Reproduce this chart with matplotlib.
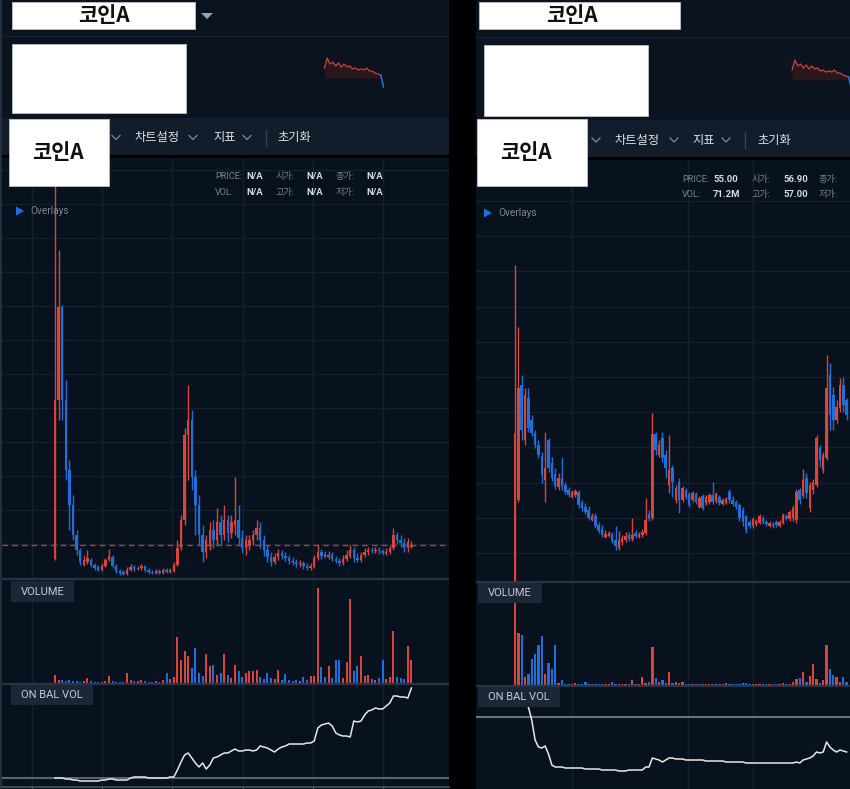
import numpy as np
import matplotlib
matplotlib.use("Agg")
import matplotlib.pyplot as plt
from matplotlib.patches import Rectangle, Polygon

# ---------------- data ----------------
left_open = [4.1, 20.0, 29.3, 20.0, 13.0, 9.5, 6.5, 5.0, 3.5, 3.8,
             4.0, 3.5, 3.3, 3.0, 3.4, 4.0, 4.3, 3.4, 2.9, 2.8,
             2.6, 3.0, 3.3, 3.1, 3.2, 3.4, 3.0, 2.8, 2.7, 2.9,
             2.7, 3.0, 2.8, 2.9, 3.5, 5.2, 8.0, 16.5, 18.0, 12.3,
             9.5, 6.5, 4.8, 5.5, 7.0, 6.0, 7.8, 6.5, 8.0, 6.7,
             7.5, 8.0, 6.2, 5.2, 5.5, 6.0, 6.5, 7.2, 6.0, 5.0,
             4.3, 3.8, 4.3, 4.7, 4.4, 4.2, 3.9, 3.8, 3.6, 3.7,
             3.4, 3.2, 3.4, 4.2, 4.8, 4.6, 4.3, 4.5, 4.1, 3.9,
             3.7, 4.1, 4.4, 5.0, 4.2, 4.0, 4.5, 4.8, 5.0, 4.9,
             5.0, 4.9, 4.7, 4.8, 5.2, 6.5, 6.0, 5.7, 5.2, 5.3]
left_close = [20.0, 29.3, 20.0, 13.0, 9.5, 6.5, 5.0, 3.8, 4.0, 4.2,
              3.5, 3.2, 3.0, 3.4, 4.0, 4.4, 3.4, 2.9, 2.7, 2.6,
              3.0, 3.3, 3.1, 3.2, 3.4, 3.0, 2.8, 2.7, 2.9, 2.7,
              3.0, 2.8, 3.0, 3.5, 5.2, 8.0, 16.5, 18.0, 12.3, 9.5,
              6.5, 4.8, 6.0, 7.0, 6.0, 7.8, 6.5, 8.0, 6.7, 7.8,
              8.0, 6.2, 5.2, 6.0, 6.0, 6.5, 7.2, 6.0, 5.0, 4.3,
              3.8, 4.3, 4.7, 4.4, 4.2, 3.9, 3.8, 3.6, 3.7, 3.4,
              3.2, 3.4, 4.2, 4.8, 4.4, 4.3, 4.5, 4.1, 3.9, 3.7,
              4.1, 4.5, 5.0, 4.2, 4.0, 4.5, 4.8, 5.0, 4.9, 5.0,
              4.9, 4.7, 4.8, 5.2, 6.5, 6.0, 5.7, 5.2, 5.8, 5.5]
left_high = [45.0, 35.0, 29.5, 22.0, 14.0, 10.5, 7.0, 5.2, 4.5, 5.0,
             4.2, 3.7, 3.5, 3.7, 4.2, 5.1, 4.5, 3.6, 3.1, 3.0,
             3.3, 3.6, 3.5, 3.4, 3.6, 3.5, 3.2, 3.0, 3.1, 3.1,
             3.2, 3.2, 3.2, 3.8, 6.0, 8.5, 17.2, 21.5, 19.0, 13.0,
             10.5, 7.5, 6.5, 7.8, 8.0, 9.2, 8.5, 9.5, 8.5, 8.5,
             12.3, 9.5, 7.0, 6.5, 6.5, 7.0, 8.0, 7.8, 6.5, 5.5,
             4.8, 4.7, 5.1, 5.0, 4.8, 4.5, 4.3, 4.1, 4.0, 3.9,
             3.7, 3.7, 4.5, 5.5, 5.1, 4.9, 4.9, 4.8, 4.4, 4.2,
             4.5, 5.0, 5.5, 5.3, 4.7, 4.8, 5.2, 5.3, 5.3, 5.3,
             5.3, 5.1, 5.2, 5.5, 7.2, 6.8, 6.5, 6.2, 6.2, 5.9]
left_low = [4.0, 18.0, 18.0, 12.0, 7.0, 6.0, 4.5, 3.5, 3.4, 3.6,
            3.3, 3.0, 2.9, 2.9, 3.3, 3.9, 3.2, 2.7, 2.5, 2.5,
            2.5, 2.9, 2.9, 3.0, 3.0, 2.8, 2.6, 2.6, 2.6, 2.6,
            2.6, 2.7, 2.7, 2.8, 3.4, 5.0, 7.5, 12.0, 11.0, 6.5,
            5.5, 3.8, 4.2, 5.0, 5.2, 5.5, 5.5, 6.0, 5.8, 6.2,
            6.5, 5.5, 4.7, 4.5, 5.0, 5.5, 6.0, 5.2, 4.4, 3.8,
            3.4, 3.6, 4.0, 4.1, 3.9, 3.6, 3.5, 3.3, 3.3, 3.1,
            3.0, 3.0, 3.2, 4.0, 4.1, 4.2, 4.1, 3.9, 3.7, 3.4,
            3.5, 3.9, 4.2, 3.8, 3.8, 3.8, 4.3, 4.5, 4.7, 4.7,
            4.6, 4.5, 4.5, 4.6, 5.0, 5.6, 5.3, 4.8, 4.8, 5.2]
left_volume = [8, 3, 3, 2, 3, 2, 2, 1, 2, 5,
               2, 1, 1, 1, 2, 7, 2, 1, 1, 1,
               10, 3, 2, 2, 3, 2, 1, 1, 2, 1,
               3, 10, 4, 6, 46, 23, 32, 27, 15, 35,
               10, 7, 29, 17, 18, 8, 10, 29, 8, 5,
               18, 12, 6, 10, 12, 12, 13, 6, 4, 10,
               5, 4, 13, 3, 9, 3, 2, 3, 2, 6,
               3, 7, 7, 95, 16, 6, 17, 5, 23, 23,
               5, 21, 84, 12, 17, 27, 7, 8, 4, 3,
               5, 23, 4, 6, 52, 6, 5, 4, 37, 23]
left_obv = [0, 0, 0, -1, -1, -2, -2, -3, -3, -3,
            -3, -3, -3, -2, -2, -1, -1, -2, -2, -2,
            -2, 0, 1, 1, 1, 1, 0, 0, 0, 0,
            0, 0, 1, 1, 8, 16, 23, 25, 20, 15,
            11, 15, 9, 13, 20, 21, 23, 25, 25, 27,
            29, 27, 27, 28, 28, 27, 28, 32, 31, 30,
            28, 26, 29, 31, 32, 34, 34, 34, 34, 34,
            35, 35, 37, 50, 53, 54, 55, 52, 45, 43,
            42, 42, 41, 57, 56, 57, 63, 67, 68, 70,
            69, 69, 72, 75, 82, 82, 81, 81, 80, 90]
left_last_price = 5.5

right_open = [1.8, 10.0, 21.5, 16.0, 20.2, 18.0, 16.7, 15.5, 14.4, 12.0,
              16.0, 13.7, 12.6, 11.3, 12.2, 11.5, 11.0, 10.3, 10.5, 10.8,
              9.7, 9.3, 9.0, 8.0, 8.4, 7.5, 7.1, 6.3, 6.4, 6.6,
              6.0, 5.2, 5.8, 6.0, 6.5, 6.1, 6.7, 6.3, 6.5, 6.7,
              8.6, 8.2, 16.6, 14.5, 16.2, 14.5, 11.5, 13.2, 10.0, 11.8,
              10.0, 11.0, 10.6, 10.0, 10.6, 9.3, 10.4, 9.7, 9.8, 10.5,
              9.9, 10.3, 9.6, 9.7, 10.8, 10.0, 9.8, 9.5, 9.0, 8.4,
              7.8, 7.4, 7.6, 7.7, 8.2, 7.8, 7.4, 7.6, 7.8, 7.4,
              7.7, 8.4, 8.1, 8.2, 8.0, 11.0, 10.4, 12.2, 9.2, 11.0,
              11.5, 15.2, 13.0, 14.2, 22.5, 20.5, 18.0, 19.2, 21.5, 20.0]
right_close = [16.7, 21.2, 17.0, 20.5, 17.2, 16.7, 15.5, 14.5, 12.5, 13.2,
               13.2, 12.2, 11.4, 12.2, 11.4, 10.8, 10.5, 10.8, 10.9, 9.5,
               9.2, 8.8, 8.2, 8.4, 7.4, 6.9, 6.5, 6.6, 6.7, 5.9,
               5.4, 6.0, 6.2, 6.4, 6.1, 6.5, 6.4, 6.6, 6.8, 8.0,
               8.1, 16.6, 15.0, 15.5, 14.2, 13.2, 13.0, 11.8, 11.2, 10.0,
               11.2, 10.3, 9.5, 10.7, 9.8, 10.2, 9.2, 10.3, 10.5, 9.8,
               10.6, 9.7, 10.0, 10.1, 10.0, 9.6, 9.3, 8.2, 7.8, 7.0,
               7.4, 8.1, 7.9, 8.4, 7.8, 7.6, 7.7, 7.4, 7.5, 7.8,
               8.5, 8.2, 8.8, 9.2, 10.8, 10.0, 12.0, 10.7, 11.5, 11.8,
               16.2, 14.0, 14.5, 21.2, 18.5, 18.0, 19.3, 21.5, 19.5, 18.5]
right_high = [33.5, 27.3, 22.5, 21.2, 21.2, 18.5, 17.0, 16.0, 14.8, 16.8,
              16.2, 14.3, 13.2, 12.7, 14.3, 11.8, 11.3, 11.0, 11.1, 11.0,
              10.0, 9.7, 9.4, 8.7, 8.7, 7.8, 7.5, 7.0, 6.9, 6.8,
              7.4, 6.9, 6.5, 6.8, 6.8, 8.2, 7.0, 6.8, 7.1, 10.2,
              9.0, 18.7, 16.8, 16.0, 16.8, 15.0, 16.5, 13.5, 11.5, 12.2,
              11.4, 11.2, 10.8, 10.9, 10.8, 10.4, 10.6, 10.5, 10.7, 11.8,
              10.8, 10.5, 10.2, 10.3, 11.1, 10.4, 10.0, 9.7, 9.3, 8.5,
              8.0, 8.3, 8.1, 8.6, 8.4, 8.0, 7.9, 7.8, 8.0, 8.0,
              8.7, 8.6, 9.0, 9.5, 11.1, 11.2, 13.1, 12.7, 11.8, 12.1,
              16.5, 15.5, 14.8, 24.5, 23.7, 21.3, 20.0, 22.2, 22.3, 20.2]
right_low = [1.0, 9.8, 16.0, 15.5, 16.8, 16.4, 15.2, 14.2, 11.7, 9.8,
             12.8, 11.9, 11.1, 11.0, 11.0, 10.6, 10.3, 10.2, 10.3, 9.2,
             8.9, 8.6, 8.0, 7.9, 7.2, 6.7, 6.3, 6.2, 6.3, 5.7,
             5.0, 5.0, 5.5, 5.8, 5.9, 5.9, 6.2, 6.2, 6.3, 6.5,
             7.9, 8.0, 14.5, 14.3, 13.8, 12.2, 10.7, 10.3, 9.7, 8.7,
             9.8, 10.1, 9.3, 9.8, 9.6, 9.2, 9.0, 9.5, 9.6, 9.6,
             9.7, 9.5, 9.5, 9.6, 9.7, 9.4, 9.1, 7.9, 7.4, 6.7,
             7.2, 7.2, 7.4, 7.6, 7.6, 7.4, 7.3, 7.2, 7.3, 7.3,
             7.6, 8.0, 7.9, 7.9, 7.7, 9.6, 10.2, 10.2, 8.8, 10.6,
             11.3, 13.3, 12.7, 14.0, 17.0, 17.0, 17.7, 18.8, 18.8, 18.0]
right_volume = [200, 52, 50, 8, 11, 26, 31, 40, 49, 11,
                22, 16, 40, 2, 5, 1, 1, 1, 2, 1,
                1, 3, 1, 1, 1, 1, 1, 1, 1, 3,
                1, 1, 1, 1, 1, 5, 1, 1, 8, 2,
                3, 38, 7, 3, 5, 2, 13, 2, 3, 2,
                3, 1, 1, 1, 1, 1, 1, 1, 1, 1,
                1, 1, 1, 2, 1, 1, 1, 1, 2, 2,
                1, 1, 1, 1, 1, 1, 1, 1, 1, 1,
                2, 1, 1, 3, 6, 7, 13, 3, 9, 21,
                6, 2, 5, 40, 16, 10, 8, 3, 8, 3]
right_obv = [92, 88, 76, 75, 73, 60, 40, 33, 32, 34,
             26, 15, 13, 13, 13, 12, 12, 12, 12, 12,
             12, 11, 11, 11, 11, 11, 10, 10, 10, 10,
             10, 9, 9, 9, 10, 10, 10, 10, 10, 13,
             13, 22, 21, 20, 18, 20, 22, 22, 21, 21,
             21, 20, 20, 20, 20, 20, 20, 19, 19, 19,
             19, 19, 19, 18, 18, 18, 18, 18, 18, 17,
             17, 17, 17, 17, 17, 17, 17, 17, 17, 17,
             17, 17, 17, 17, 18, 17, 20, 21, 22, 24,
             28, 27, 28, 38, 33, 30, 28, 30, 29, 28]

spark_vals = [22, 32, 26, 28, 24, 27, 23, 26, 23, 24, 21,
              22, 20, 21, 20, 22, 19, 19, 17, 16, 15, 3]

coin_name = "코인A"
toolbar_items = ["차트설정", "지표", "초기화"]
info_labels = ["PRICE:", "시가:", "종가:", "VOL:", "고가:", "저가:"]
left_info_values = ["N/A", "N/A", "N/A", "N/A", "N/A", "N/A"]
right_info_values = ["55.00", "56.90", "", "71.2M", "57.00", ""]
panel_labels = ["VOLUME", "ON BAL VOL"]

# ---------------- style ----------------
RED = "#d8463b"
BLUE = "#1e6fd9"
CHART_BG = "#08111e"
HEAD_BG = "#0b1321"
TOOL_BG = "#121c2b"
GRID = "#151f2d"
SEP = "#2a3443"
KR = ["Noto Sans CJK KR", "DejaVu Sans"]
plt.rcParams["font.family"] = ["Roboto", "Noto Sans CJK KR", "DejaVu Sans"]

W, H = 850, 789
fig = plt.figure(figsize=(W / 100, H / 100), dpi=100)
fig.patch.set_facecolor("#000000")


def px_axes(x0, y0, x1, y1, z=0):
    ax = fig.add_axes([x0 / W, 1 - y1 / H, (x1 - x0) / W, (y1 - y0) / H], zorder=z)
    ax.set_facecolor("none")
    return ax


bg = px_axes(0, 0, W, H, z=-5)
bg.set_xlim(0, W); bg.set_ylim(H, 0); bg.axis("off")
top = px_axes(0, 0, W, H, z=20)
top.set_xlim(0, W); top.set_ylim(H, 0); top.axis("off")


def rect(ax, x0, y0, x1, y1, fc, ec="none", lw=0, z=0):
    ax.add_patch(Rectangle((x0, y0), x1 - x0, y1 - y0, fc=fc, ec=ec, lw=lw, zorder=z))


# ---- panel backgrounds ----
for (x0, x1, head_end, tool_end, black_end, sep_y) in [(0, 449, 118, 155, 157.5, 36),
                                                       (476, 850, 120, 157, 160, 37)]:
    rect(bg, x0, 0, x1, H, CHART_BG)
    rect(bg, x0, 0, x1, head_end, HEAD_BG)
    rect(bg, x0, sep_y, x1, sep_y + 1, "#1a2231")
    rect(bg, x0, head_end, x1, tool_end, TOOL_BG)
    rect(bg, x0, tool_end, x1, black_end, "#000000")
rect(bg, 0, 0, 2, H, "#262e3b")


def style_axes(ax, xlim, ylim, xt, yt):
    ax.set_xlim(*xlim); ax.set_ylim(*ylim)
    ax.set_xticks(xt); ax.set_yticks(yt)
    ax.grid(True, color=GRID, lw=1.0)
    ax.tick_params(length=0, labelbottom=False, labelleft=False)
    for s in ax.spines.values():
        s.set_visible(False)


def candles(ax, o, h, l, c, width):
    o, h, l, c = map(np.asarray, (o, h, l, c))
    x = np.arange(len(o))
    cols = np.where(c >= o, RED, BLUE)
    ax.vlines(x, l, h, colors=cols, lw=1.0, zorder=3)
    ax.bar(x, np.maximum(np.abs(c - o), 0.12), bottom=np.minimum(o, c), width=width,
           color=cols, linewidth=0, zorder=3)
    return cols


# ---------------- left chart ----------------
lx = lambda px: (px - 55) / 3.6
L_xlim = (lx(2), lx(449))
L_gx = [lx(p) for p in (32, 102, 172, 243, 313, 383)]

Lp = px_axes(2, 157.5, 449, 579, z=1)
style_axes(Lp, L_xlim, (60 - 57.9, 60 - 15.75), L_gx, [60 - (170 + 34 * k) / 10 for k in range(12)])
lcols = candles(Lp, left_open, left_high, left_low, left_close, 0.72)
Lp.axhline(left_last_price, color="#a8463e", lw=1.0, ls=(0, (4, 3)), zorder=2)

Lv = px_axes(2, 579, 449, 684, z=1)
style_axes(Lv, L_xlim, (-1, 104), L_gx, [])
Lv.bar(np.arange(len(left_volume)), left_volume, width=0.6, color=lcols, linewidth=0, zorder=3)

Lo = px_axes(2, 684, 449, 786, z=1)
style_axes(Lo, L_xlim, (-8, 94), L_gx, [])
Lo.axhline(0, color="#5b636f", lw=1.5, zorder=2)
Lo.plot(np.arange(len(left_obv)), left_obv, color="#e8e8e8", lw=1.1, zorder=3)

# ---------------- right chart ----------------
rx = lambda px: (px - 515) / 3.35
R_xlim = (rx(476), rx(850))
R_gx = [rx(p) for p in (572, 688, 753)]

Rp = px_axes(476, 160, 850, 582, z=1)
style_axes(Rp, R_xlim, (60 - 58.2, 60 - 16.0), R_gx, [60 - (201 + 35.2 * k) / 10 for k in range(11)])
rcols = candles(Rp, right_open, right_high, right_low, right_close, 0.75)

Rv = px_axes(476, 582, 850, 686, z=1)
style_axes(Rv, R_xlim, (-1, 103), R_gx, [])
Rv.bar(np.arange(len(right_volume)), right_volume, width=0.7, color=rcols, linewidth=0, zorder=3)

Ro = px_axes(476, 686, 850, 789, z=1)
style_axes(Ro, R_xlim, (-9, 94), R_gx, [])
Ro.axhline(63, color="#6b727d", lw=1.5, zorder=2)
Ro.plot(np.arange(len(right_obv)), right_obv, color="#e8e8e8", lw=1.1, zorder=3)

# ---------------- sparklines ----------------
for (x0, y0) in [(323, 55), (790.7, 57)]:
    sp = px_axes(x0, y0, x0 + 62, y0 + 35, z=5)
    sp.set_xlim(-0.5, 21.5); sp.set_ylim(0, 35); sp.axis("off")
    n = len(spark_vals) - 1
    xs = np.arange(len(spark_vals))
    sp.fill_between(xs[:n], spark_vals[:n], 12, color="#2a161d", lw=0)
    sp.plot(xs[:n], spark_vals[:n], color="#c9453c", lw=0.9)
    sp.plot(xs[n - 1:], spark_vals[n - 1:], color="#2a7ae0", lw=1.0)

# ---------------- separators / axis ----------------
for (x0, x1, y) in [(2, 449, 579), (2, 449, 683.5), (476, 850, 582), (476, 850, 686)]:
    top.plot([x0, x1], [y, y], color=SEP, lw=1.6, solid_capstyle="butt")
top.plot([2, 449], [786.5, 786.5], color="#4a5260", lw=1.2)
for gx in (32, 102, 172, 243, 313, 383):
    top.plot([gx, gx], [786.5, 789], color="#4a5260", lw=1.0)

# ---------------- header ----------------
def white_box(x0, y0, x1, y1, text=None, tx=None, ty=None, size=15):
    top.add_patch(Rectangle((x0, y0), x1 - x0, y1 - y0, fc="white", ec="#bfc3c8", lw=0.6, zorder=30))
    if text:
        top.text(tx, ty, text, ha="center", va="center", fontsize=size, fontweight="bold",
                 family=KR, color="#111111", zorder=31)


white_box(12, 2, 195, 29, coin_name, 104, 15.5)
white_box(12, 44, 186, 113)
top.add_patch(Polygon([(201, 13), (213, 13), (207, 19)], closed=True, fc="#9aa2ad", ec="none", zorder=30))
white_box(479, 2, 680, 29, coin_name, 572, 15.5)
white_box(484, 45, 648, 116)


def chevron(x, y):
    top.plot([x - 4, x, x + 4], [y - 2, y + 2, y - 2], color="#7f8896", lw=0.9, zorder=25)


def toolbar(xs_text, xs_chev, x_bar, y):
    for t, x in zip(toolbar_items, xs_text):
        top.text(x, y, t, ha="left", va="center", fontsize=8.8, family=KR, color="#dfe3e8", zorder=25)
    for x in xs_chev:
        chevron(x, y)
    top.plot([x_bar, x_bar], [y - 8, y + 8], color="#364152", lw=1.0, zorder=25)


toolbar([135, 213, 277], [116, 193, 247], 266, 137.5)
toolbar([615, 692, 757], [596, 674, 726], 745, 140)
white_box(9, 119, 109, 186, coin_name, 58, 152.5)
white_box(477, 119, 587, 186, coin_name, 526, 152.5)


# ---------------- info rows ----------------
def info(lab_x, val_x, rows_y, values):
    for k, (lab, val) in enumerate(zip(info_labels, values)):
        r, c = divmod(k, 3)
        top.text(lab_x[c], rows_y[r], lab, ha="left", va="center", fontsize=6.6,
                 color="#7b8390", zorder=25)
        if val:
            top.text(val_x[c], rows_y[r], val, ha="left", va="center", fontsize=6.8,
                     fontweight="bold", color="#d6dade", zorder=25)


info([215, 276, 336], [246, 306, 366], [176, 192], left_info_values)
info([682, 752, 819], [713, 783, 850], [179, 194], right_info_values)

for (tx, ty) in [(16, 211), (484, 213)]:
    top.add_patch(Polygon([(tx, ty - 4.5), (tx, ty + 4.5), (tx + 8, ty)], closed=True,
                          fc="#1f6fe0", ec="none", zorder=25))
    top.text(tx + 14, ty, "Overlays", ha="left", va="center", fontsize=7.3, color="#7c8694", zorder=25)


# ---------------- panel labels ----------------
def label_box(x0, y0, x1, y1, text):
    top.add_patch(Rectangle((x0, y0), x1 - x0, y1 - y0, fc="#1c2636", ec="none", zorder=28))
    top.text((x0 + x1) / 2, (y0 + y1) / 2 + 0.5, text, ha="center", va="center", fontsize=8,
             color="#c5cad1", zorder=29)


label_box(11, 581, 74, 602, panel_labels[0])
label_box(11, 684.5, 93, 705, panel_labels[1])
label_box(478, 583, 542, 603, panel_labels[0])
label_box(478, 687, 560, 707, panel_labels[1])

fig.savefig("out.png", dpi=100, facecolor=fig.get_facecolor())
